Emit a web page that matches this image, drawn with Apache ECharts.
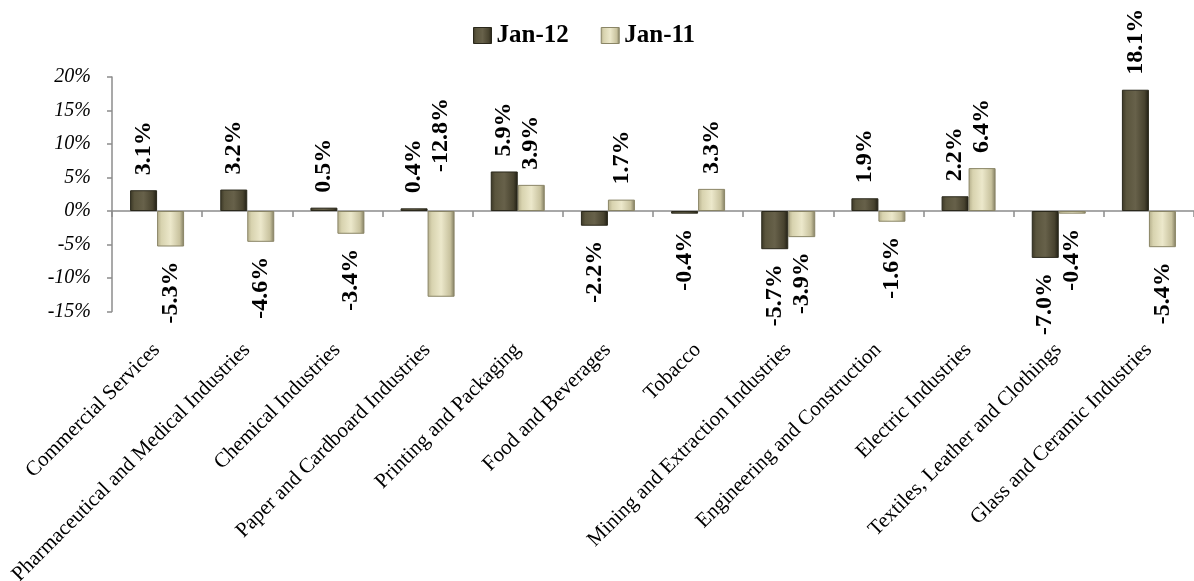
<!DOCTYPE html>
<html>
<head>
<meta charset="utf-8">
<title>Industry change, Jan-12 vs Jan-11</title>
<script src="https://cdn.jsdelivr.net/npm/echarts@6/dist/echarts.min.js"></script>
<style>
  html, body { margin: 0; padding: 0; background: #ffffff; }
  #chart { width: 1194px; height: 581px; }
</style>
</head>
<body>
<div id="chart"></div>
<script>
// Industry categories (x axis)
const categories = [
  'Commercial Services',
  'Pharmaceutical and Medical Industries',
  'Chemical Industries',
  'Paper and Cardboard Industries',
  'Printing and Packaging',
  'Food and Beverages',
  'Tobacco',
  'Mining and Extraction Industries',
  'Engineering and Construction',
  'Electric Industries',
  'Textiles, Leather and Clothings',
  'Glass and Ceramic Industries'
];

// Year-on-year change, in percent
const jan12 = [3.1, 3.2, 0.5, 0.4, 5.9, -2.2, -0.4, -5.7, 1.9, 2.2, -7.0, 18.1];
const jan11 = [-5.3, -4.6, -3.4, -12.8, 3.9, 1.7, 3.3, -3.9, -1.6, 6.4, -0.4, -5.4];

// Value axis range and step (percent)
const yMin = -15;
const yMax = 20;
const yStep = 5;

const serif = "'Liberation Serif', 'Times New Roman', serif";

// Bevel-like shading for each series
const darkFill = {
  type: 'linear', x: 0, y: 0, x2: 1, y2: 0,
  colorStops: [
    { offset: 0, color: '#3a3625' },
    { offset: 0.16, color: '#5a553d' },
    { offset: 0.5, color: '#67614a' },
    { offset: 0.84, color: '#48432f' },
    { offset: 1, color: '#1f1d13' }
  ]
};
const lightFill = {
  type: 'linear', x: 0, y: 0, x2: 1, y2: 0,
  colorStops: [
    { offset: 0, color: '#b3ad8a' },
    { offset: 0.16, color: '#d8d3af' },
    { offset: 0.5, color: '#ece8cb' },
    { offset: 0.84, color: '#c8c29e' },
    { offset: 1, color: '#7f7a5e' }
  ]
};

// Labels sit outside the bar end, rotated to read bottom-to-top
function labelFor(v, raised) {
  const base = {
    show: true,
    rotate: 90,
    distance: 15,
    fontFamily: serif,
    fontWeight: 'bold',
    fontSize: 24,
    color: '#000000',
    verticalAlign: 'middle',
    formatter: (p) => p.value.toFixed(1) + '%'
  };
  if (raised) {
    // this label is lifted above the zero line instead of below the bar
    return Object.assign(base, { position: 'top', align: 'left', distance: 39 });
  }
  if (v >= 0) {
    return Object.assign(base, { position: 'top', align: 'left' });
  }
  return Object.assign(base, { position: 'bottom', align: 'right' });
}

function buildData(values, raisedLabelIndex) {
  return values.map((v, i) => ({
    value: v,
    label: labelFor(v, i === raisedLabelIndex)
  }));
}

const chart = echarts.init(document.getElementById('chart'), null, { renderer: 'canvas' });

chart.setOption({
  animation: false,
  backgroundColor: '#ffffff',
  legend: {
    top: 18,
    left: 468,
    icon: 'rect',
    itemWidth: 18,
    itemHeight: 16,
    itemGap: 32,
    textStyle: { fontFamily: serif, fontWeight: 'bold', fontSize: 25, color: '#000000' },
    data: [
      { name: 'Jan-12', itemStyle: { color: darkFill, borderColor: '#2a281b', borderWidth: 1 } },
      { name: 'Jan-11', itemStyle: { color: lightFill, borderColor: '#8a8566', borderWidth: 1 } }
    ]
  },
  grid: {
    left: 112, right: 0, top: 77, bottom: 269.5,
    containLabel: false,
    outerBoundsMode: 'none'
  },
  xAxis: [
    {
      type: 'category',
      data: categories,
      axisLine: { onZero: true, lineStyle: { color: '#8c8c8c', width: 1.5 } },
      axisTick: { show: true, length: 6, interval: 0, lineStyle: { color: '#8c8c8c', width: 1.5 } },
      axisLabel: { show: false },
      splitLine: { show: false }
    },
    {
      type: 'category',
      data: categories,
      position: 'bottom',
      axisLine: { show: false, onZero: false },
      axisTick: { show: false },
      splitLine: { show: false },
      axisLabel: {
        show: true,
        interval: 0,
        rotate: 45,
        margin: 20,
        padding: [0, 11, 0, 0],
        verticalAlign: 'top',
        fontFamily: serif,
        fontSize: 21,
        color: '#000000'
      }
    }
  ],
  yAxis: {
    type: 'value',
    min: yMin,
    max: yMax,
    interval: yStep,
    axisLine: { show: true, lineStyle: { color: '#8c8c8c', width: 1.5 } },
    axisTick: { show: true, length: 5, lineStyle: { color: '#8c8c8c', width: 1.5 } },
    splitLine: { show: false },
    axisLabel: {
      margin: 21,
      fontFamily: serif,
      fontStyle: 'italic',
      fontSize: 20,
      color: '#000000',
      formatter: '{value}%'
    }
  },
  series: [
    {
      name: 'Jan-12',
      type: 'bar',
      barWidth: 27,
      barGap: '0%',
      itemStyle: { color: darkFill, borderColor: '#2a281b', borderWidth: 1 },
      data: buildData(jan12, -1)
    },
    {
      name: 'Jan-11',
      type: 'bar',
      barWidth: 27,
      barGap: '0%',
      itemStyle: { color: lightFill, borderColor: '#8a8566', borderWidth: 1 },
      data: buildData(jan11, 3)
    }
  ]
});
</script>
</body>
</html>
